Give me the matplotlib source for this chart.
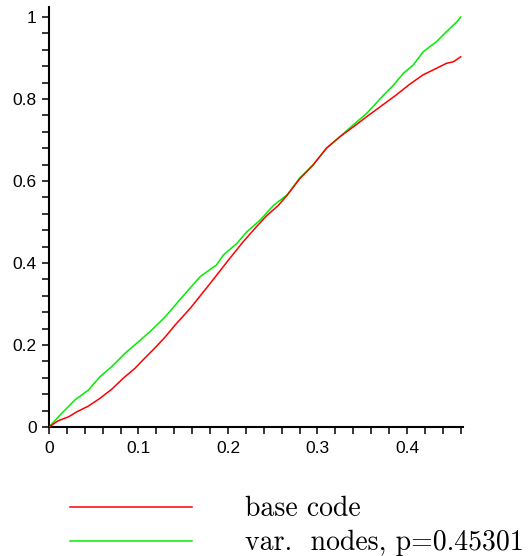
import matplotlib.pyplot as plt
from matplotlib.ticker import MultipleLocator, FixedFormatter, FixedLocator

# base code curve
x_base = [0, .010, .022, .031, .044, .057, .070, .083, .096, .107, .118, .130, .141,
          .158, .180, .199, .217, .232, .243, .256, .266, .280, .295, .310, .325,
          .340, .355, .370, .388, .403, .418, .433, .444, .452, .460]
y_base = [0, .015, .025, .037, .051, .070, .092, .119, .143, .168, .192, .220, .249,
          .290, .350, .403, .452, .489, .515, .540, .565, .605, .639, .680, .708,
          .732, .757, .781, .810, .836, .859, .875, .887, .891, .903]

# var. nodes curve
x_var = [0, .014, .029, .044, .057, .070, .085, .100, .115, .130, .146, .169, .187,
         .195, .210, .221, .236, .251, .266, .280, .295, .310, .325, .340, .355,
         .374, .385, .396, .407, .418, .433, .444, .456, .460]
y_var = [0, .033, .066, .090, .123, .147, .180, .208, .237, .269, .310, .367, .395,
         .420, .448, .476, .505, .541, .566, .607, .639, .680, .708, .737, .765,
         .810, .834, .863, .883, .915, .940, .964, .989, 1.0]

labels = ["base code", "var.  nodes, p=0.45301"]

fig = plt.figure(figsize=(5.29, 5.56), dpi=100)
ax = fig.add_axes([49/529, 129/556, 414/529, 420/556])

l1, = ax.plot(x_base, y_base, color='#ff0000', lw=1.1, zorder=3)
l2, = ax.plot(x_var, y_var, color='#00ee00', lw=1.1, zorder=2)

ax.set_xlim(0, 0.4626)
ax.set_ylim(0, 1.0245)
for s in ['top', 'right']:
    ax.spines[s].set_visible(False)
for s in ['left', 'bottom']:
    ax.spines[s].set_linewidth(1.5)

ax.xaxis.set_major_locator(FixedLocator([0, 0.1, 0.2, 0.3, 0.4]))
ax.xaxis.set_major_formatter(FixedFormatter(["0", "0.1", "0.2", "0.3", "0.4"]))
ax.xaxis.set_minor_locator(MultipleLocator(0.02))
ax.yaxis.set_major_locator(FixedLocator([0, 0.2, 0.4, 0.6, 0.8, 1.0]))
ax.yaxis.set_major_formatter(FixedFormatter(["0", "0.2", "0.4", "0.6", "0.8", "1"]))
ax.yaxis.set_minor_locator(MultipleLocator(0.04))
ax.tick_params(which='both', direction='out', length=5, width=1.1)
ax.tick_params(axis='x', pad=5)
ax.tick_params(axis='y', pad=4)
for lab in ax.get_xticklabels() + ax.get_yticklabels():
    lab.set_fontfamily('Liberation Sans')
    lab.set_fontsize(12.5)

fig.legend([l1, l2], labels, loc='upper left', bbox_to_anchor=(45/529, 1 - 471/556),
           frameon=False, prop={'family': 'cmr10', 'size': 20},
           handlelength=4.4, handletextpad=1.9, labelspacing=0.28)

fig.savefig('out.png', dpi=100)
